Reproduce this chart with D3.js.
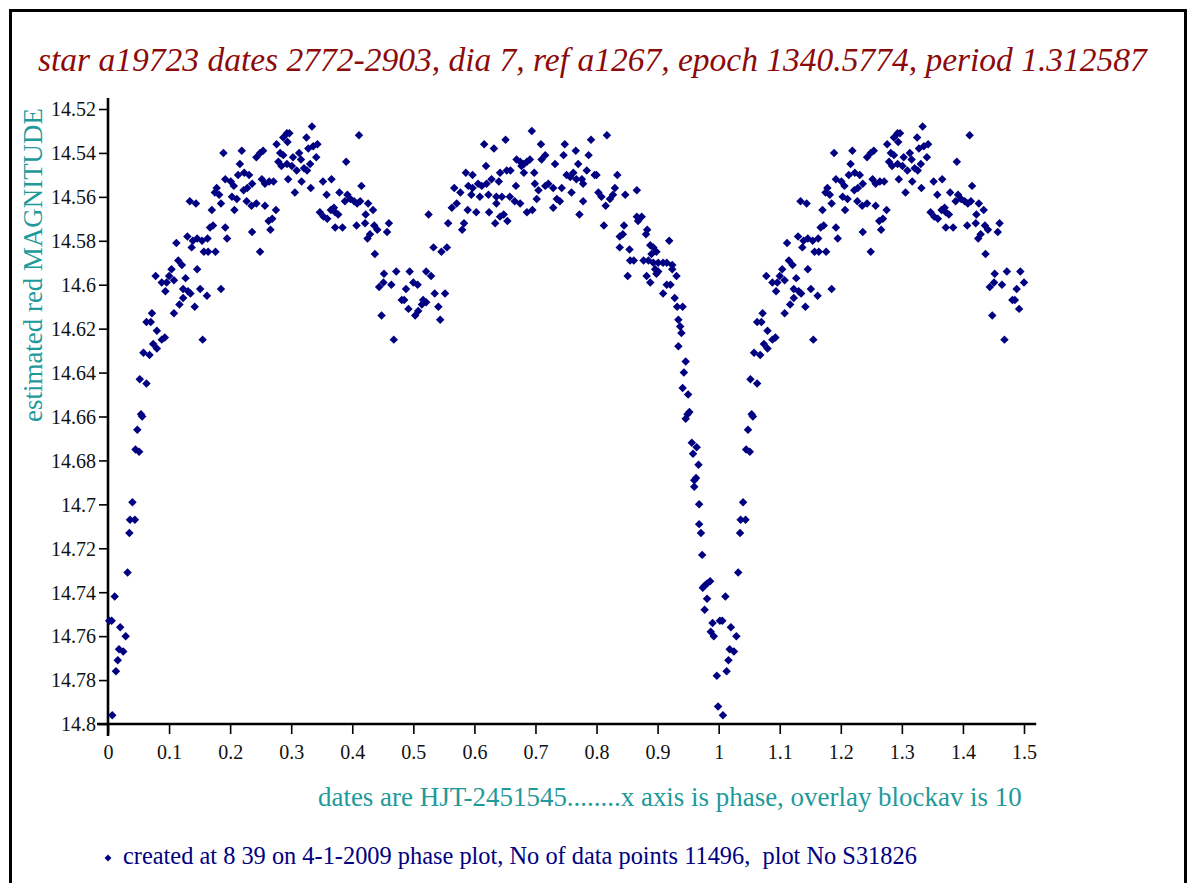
<!DOCTYPE html>
<html><head><meta charset="utf-8">
<script src="https://cdn.jsdelivr.net/npm/d3@7"></script>
<style>html,body{margin:0;padding:0;background:#fff;overflow:hidden}</style>
</head><body>
<svg id="chart" width="1190" height="883"></svg>
<script>
// ---------- data ----------
const titleText = "star a19723 dates 2772-2903, dia 7, ref a1267, epoch 1340.5774, period 1.312587";
const yTitleText = "estimated red MAGNITUDE";
const xTitleText = "dates are HJT-2451545........x axis is phase, overlay blockav is 10";
const footerText = "created at 8 39 on 4-1-2009 phase plot, No of data points 11496,  plot No S31826";

const xTicks = [0,0.1,0.2,0.3,0.4,0.5,0.6,0.7,0.8,0.9,1,1.1,1.2,1.3,1.4,1.5];
const xTickLabels = ["0","0.1","0.2","0.3","0.4","0.5","0.6","0.7","0.8","0.9","1","1.1","1.2","1.3","1.4","1.5"];
const yTicks = [14.52,14.54,14.56,14.58,14.6,14.62,14.64,14.66,14.68,14.7,14.72,14.74,14.76,14.78,14.8];
const yTickLabels = ["14.52","14.54","14.56","14.58","14.6","14.62","14.64","14.66","14.68","14.7","14.72","14.74","14.76","14.78","14.8"];

const overlayShift = 1;     // phase 0..0.5 repeated after phase 1
const overlayLimit = 1.5;

// [phase, magnitude] observations, phase 0..1
const phaseMag = [
[0.334,14.528],[0.411,14.532],[0.297,14.531],[0.287,14.533],[0.293,14.531],[0.325,14.533],[0.276,14.536],[0.294,14.535],[0.343,14.536],[0.336,14.537],
[0.328,14.538],[0.189,14.540],[0.219,14.539],[0.254,14.539],[0.249,14.540],[0.243,14.542],[0.282,14.540],[0.287,14.541],[0.313,14.540],[0.303,14.542],
[0.316,14.543],[0.341,14.542],[0.390,14.544],[0.279,14.544],[0.284,14.546],[0.293,14.545],[0.301,14.546],[0.309,14.548],[0.321,14.547],[0.326,14.548],
[0.331,14.545],[0.216,14.545],[0.213,14.550],[0.223,14.549],[0.231,14.550],[0.295,14.552],[0.317,14.553],[0.352,14.553],[0.366,14.552],[0.192,14.552],
[0.201,14.553],[0.206,14.555],[0.252,14.552],[0.257,14.554],[0.264,14.553],[0.271,14.553],[0.236,14.554],[0.228,14.556],[0.222,14.557],[0.306,14.558],
[0.332,14.556],[0.178,14.556],[0.175,14.558],[0.182,14.559],[0.415,14.555],[0.358,14.559],[0.379,14.558],[0.392,14.559],[0.397,14.561],[0.403,14.562],
[0.388,14.562],[0.408,14.563],[0.134,14.562],[0.144,14.563],[0.203,14.560],[0.211,14.561],[0.207,14.566],[0.185,14.563],[0.170,14.566],[0.227,14.562],
[0.235,14.564],[0.243,14.563],[0.257,14.564],[0.275,14.566],[0.347,14.567],[0.353,14.569],[0.359,14.570],[0.365,14.566],[0.370,14.565],[0.377,14.568],
[0.372,14.567],[0.413,14.562],[0.426,14.563],[0.434,14.566],[0.422,14.568],[0.525,14.568],[0.172,14.573],[0.167,14.574],[0.192,14.574],[0.195,14.579],
[0.236,14.576],[0.266,14.575],[0.263,14.571],[0.269,14.570],[0.372,14.574],[0.384,14.574],[0.407,14.573],[0.421,14.572],[0.436,14.573],[0.441,14.575],
[0.429,14.577],[0.425,14.579],[0.460,14.572],[0.457,14.576],[0.130,14.578],[0.139,14.580],[0.146,14.579],[0.154,14.580],[0.163,14.579],[0.137,14.583],
[0.112,14.581],[0.157,14.585],[0.164,14.585],[0.176,14.585],[0.249,14.585],[0.437,14.586],[0.115,14.589],[0.121,14.591],[0.146,14.593],[0.104,14.593],
[0.100,14.596],[0.108,14.598],[0.096,14.599],[0.088,14.599],[0.078,14.596],[0.127,14.597],[0.123,14.602],[0.131,14.603],[0.135,14.604],[0.151,14.602],
[0.162,14.605],[0.185,14.602],[0.094,14.603],[0.123,14.606],[0.117,14.609],[0.108,14.613],[0.142,14.610],[0.155,14.625],[0.072,14.613],[0.063,14.617],
[0.070,14.617],[0.080,14.621],[0.093,14.624],[0.088,14.625],[0.074,14.627],[0.080,14.629],[0.452,14.595],[0.451,14.599],[0.472,14.594],[0.494,14.594],
[0.521,14.594],[0.529,14.596],[0.444,14.601],[0.464,14.600],[0.488,14.602],[0.481,14.607],[0.485,14.607],[0.500,14.599],[0.507,14.600],[0.516,14.607],
[0.521,14.608],[0.535,14.604],[0.552,14.604],[0.492,14.611],[0.503,14.614],[0.508,14.612],[0.514,14.609],[0.541,14.610],[0.544,14.616],[0.448,14.614],
[0.468,14.625],[0.555,14.583],[0.546,14.585],[0.533,14.583],[0.557,14.572],
[0.058,14.631],[0.068,14.632],[0.052,14.643],[0.063,14.645],[0.054,14.659],[0.056,14.660],[0.048,14.666],[0.045,14.675],[0.051,14.676],[0.040,14.699],
[0.036,14.707],[0.044,14.707],[0.035,14.713],[0.032,14.731],[0.011,14.742],[0.002,14.753],[0.006,14.753],[0.020,14.756],[0.029,14.760],[0.018,14.766],
[0.025,14.767],[0.016,14.771],[0.013,14.776],[0.007,14.796],
[0.694,14.530],[0.817,14.532],[0.616,14.536],[0.632,14.538],[0.651,14.534],[0.709,14.536],[0.748,14.536],[0.791,14.534],[0.766,14.539],[0.787,14.541],
[0.746,14.541],[0.716,14.541],[0.710,14.543],[0.669,14.543],[0.675,14.544],[0.681,14.545],[0.686,14.544],[0.691,14.543],[0.677,14.546],[0.619,14.546],
[0.732,14.545],[0.770,14.545],[0.586,14.549],[0.597,14.550],[0.642,14.549],[0.653,14.548],[0.659,14.548],[0.681,14.549],[0.698,14.549],[0.751,14.550],
[0.757,14.551],[0.762,14.549],[0.767,14.552],[0.776,14.552],[0.784,14.548],[0.797,14.550],[0.800,14.550],[0.778,14.554],[0.834,14.550],[0.567,14.556],
[0.577,14.558],[0.590,14.555],[0.597,14.556],[0.606,14.554],[0.612,14.555],[0.620,14.554],[0.628,14.552],[0.595,14.559],[0.609,14.560],[0.623,14.559],
[0.640,14.553],[0.668,14.555],[0.699,14.554],[0.716,14.555],[0.721,14.554],[0.729,14.556],[0.743,14.556],[0.705,14.557],[0.636,14.560],[0.645,14.560],
[0.658,14.560],[0.666,14.562],[0.675,14.563],[0.636,14.563],[0.648,14.568],[0.642,14.569],[0.702,14.561],[0.735,14.561],[0.740,14.562],[0.759,14.558],
[0.778,14.562],[0.803,14.558],[0.808,14.560],[0.822,14.561],[0.827,14.559],[0.830,14.556],[0.847,14.559],[0.866,14.557],[0.815,14.564],[0.563,14.565],
[0.571,14.563],[0.589,14.566],[0.603,14.567],[0.624,14.567],[0.654,14.571],[0.634,14.572],[0.686,14.567],[0.695,14.566],[0.729,14.565],[0.772,14.568],
[0.583,14.572],[0.580,14.575],[0.812,14.573],[0.866,14.569],[0.870,14.570],[0.874,14.569],[0.868,14.571],[0.845,14.573],[0.883,14.575],[0.881,14.577],
[0.838,14.578],[0.843,14.577],[0.919,14.580],[0.888,14.582],[0.893,14.583],[0.898,14.585],[0.890,14.586],[0.838,14.583],[0.854,14.584],[0.855,14.589],
[0.861,14.589],[0.877,14.589],[0.885,14.589],[0.893,14.590],[0.901,14.590],[0.909,14.590],[0.915,14.590],[0.924,14.591],[0.896,14.593],[0.901,14.594],
[0.898,14.595],[0.924,14.593],[0.931,14.596],[0.851,14.596],[0.882,14.596],[0.888,14.599],[0.915,14.600],[0.921,14.600],[0.909,14.604],[0.928,14.606],
[0.932,14.610],[0.941,14.610],[0.934,14.616],[0.937,14.619],[0.939,14.622],[0.934,14.628],
[0.946,14.635],[0.943,14.640],[0.941,14.647],[0.950,14.650],[0.952,14.658],[0.949,14.659],[0.946,14.661],[0.956,14.672],[0.964,14.674],[0.958,14.677],
[0.967,14.682],[0.960,14.689],[0.963,14.688],[0.960,14.692],[0.968,14.700],[0.968,14.709],[0.971,14.713],[0.973,14.723],[0.986,14.735],[0.981,14.736],
[0.977,14.737],[0.974,14.738],[0.981,14.743],[0.977,14.748],[0.990,14.754],[0.987,14.758],[0.992,14.760],[0.997,14.778],[0.999,14.792]
];

// ---------- drawing ----------
const svg = d3.select("#chart");
const W = 1190, H = 883;
svg.append("rect").attr("x",0).attr("y",0).attr("width",W).attr("height",H).attr("fill","#fff");
svg.append("rect").attr("x",10.5).attr("y",10.5).attr("width",1175).attr("height",900)
   .attr("fill","none").attr("stroke","#000").attr("stroke-width",3);

const x = d3.scaleLinear().domain([0,1.5]).range([108,1024]);
const y = d3.scaleLinear().domain([14.52,14.8]).range([109,724]);

const serif = "'Liberation Serif','Times New Roman',serif";
function fit(sel, target, base){
  sel.style("font-size", base+"px");
  const w = sel.node().getComputedTextLength();
  sel.style("font-size", (base*target/w).toFixed(2)+"px");
}

// title
const t = svg.append("text").attr("x",38).attr("y",71).text(titleText)
  .attr("font-family",serif).attr("font-style","italic").attr("fill","#8b0a0a");
fit(t,1109,28);

// y axis
const gy = svg.append("g").attr("transform","translate(108,0)")
  .call(d3.axisLeft(y).tickValues(yTicks).tickFormat((d,i)=>yTickLabels[i]).tickSize(9).tickSizeOuter(0).tickPadding(3));
gy.select(".domain").remove();
gy.selectAll(".tick line").attr("stroke","#000").attr("stroke-width",1.6);
gy.selectAll(".tick text").attr("font-family",serif).attr("font-size",20).attr("fill","#111").attr("dy","0.34em");

// x axis
const gx = svg.append("g").attr("transform","translate(0,724)")
  .call(d3.axisBottom(x).tickValues(xTicks).tickFormat((d,i)=>xTickLabels[i]).tickSize(10).tickSizeOuter(0));
gx.select(".domain").remove();
gx.selectAll(".tick line").attr("stroke","#000").attr("stroke-width",1.6);
gx.selectAll(".tick text").attr("font-family",serif).attr("font-size",20).attr("fill","#111")
  .attr("y",35).attr("dy",0);

// axis lines
svg.append("line").attr("x1",x(0)).attr("x2",x(0)).attr("y1",y(14.515)).attr("y2",736)
  .attr("stroke","#000").attr("stroke-width",2.6);
svg.append("line").attr("x1",x(-0.018)).attr("x2",x(1.52)).attr("y1",y(14.8)).attr("y2",y(14.8))
  .attr("stroke","#000").attr("stroke-width",2.6);

// axis titles
const teal = "#1e9a9a";
const yt = svg.append("text").attr("transform","translate(42,265) rotate(-90)")
  .attr("text-anchor","middle").text(yTitleText).attr("font-family",serif).attr("fill",teal);
fit(yt,314,22);
const xt = svg.append("text").attr("x",318).attr("y",806).text(xTitleText)
  .attr("font-family",serif).attr("fill",teal);
fit(xt,704,22);

// points
const pts = phaseMag.map(d=>({p:d[0],m:d[1]}));
const overlay = pts.filter(d=>d.p+overlayShift<=overlayLimit).map(d=>({p:d.p+overlayShift,m:d.m}));
const all = pts.concat(overlay);
const sym = d3.symbol().type(d3.symbolSquare).size(36);
svg.append("g").selectAll("path").data(all).join("path")
  .attr("d",sym)
  .attr("transform",d=>`translate(${x(d.p)},${y(d.m)}) rotate(45)`)
  .attr("fill","#000080");

// footer
svg.append("path").attr("d",d3.symbol().type(d3.symbolSquare).size(24)())
  .attr("transform","translate(108,858) rotate(45)").attr("fill","#000080");
const ft = svg.append("text").attr("x",123).attr("y",864).text(footerText)
  .attr("font-family",serif).attr("fill","#000080").style("white-space","pre");
fit(ft,794,19);
</script>
</body></html>
